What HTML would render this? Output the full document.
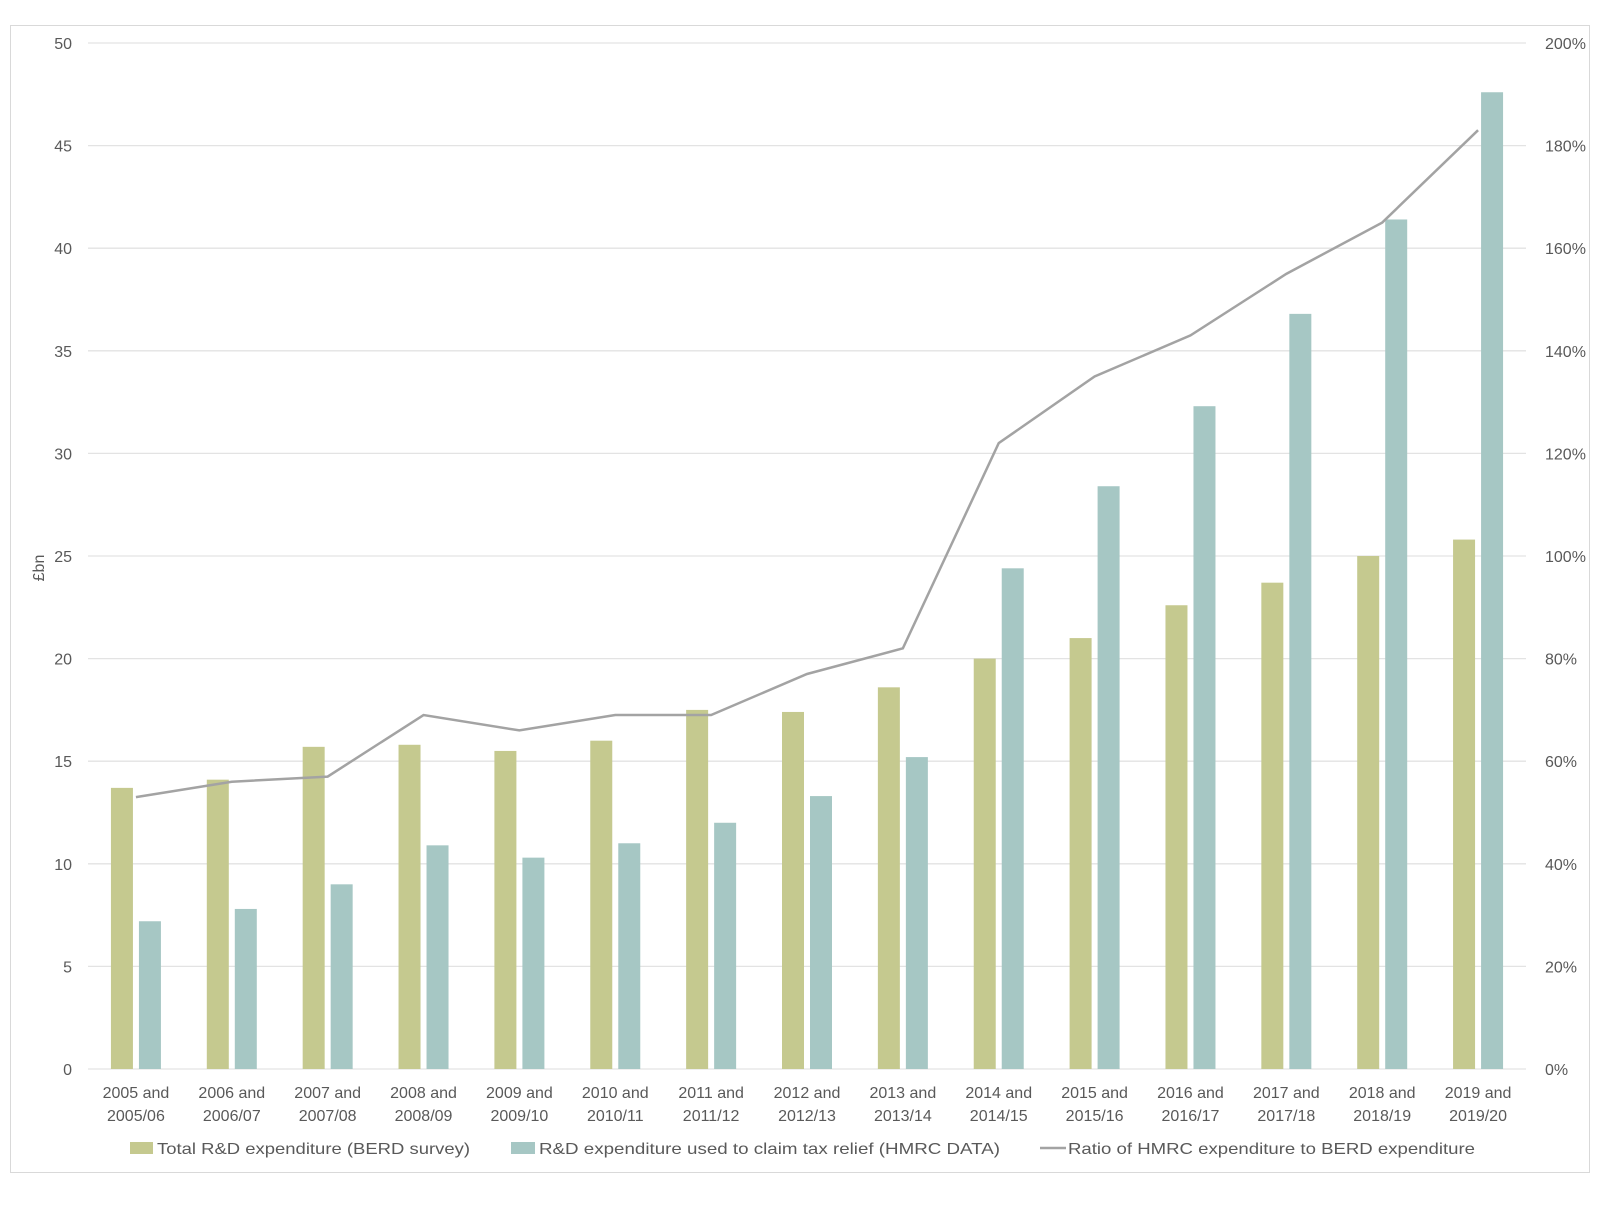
<!DOCTYPE html>
<html><head><meta charset="utf-8"><style>
body{margin:0;background:#fff}
svg text{font-family:"Liberation Sans",sans-serif;fill:#595959;font-size:16px}
</style></head><body>
<svg width="1600" height="1200" xmlns="http://www.w3.org/2000/svg">
<rect x="10.5" y="25.5" width="1579" height="1147" fill="#fff" stroke="#d9d9d9"/>
<g id="g"></g>
</svg>
<script>
const svg=document.querySelector('svg');const NS='http://www.w3.org/2000/svg';
function el(t,a,txt){const e=document.createElementNS(NS,t);for(const k in a)e.setAttribute(k,a[k]);if(txt!==undefined)e.textContent=txt;svg.appendChild(e);return e;}
const L=88,R=1526,T=43,B=1069,u=(B-T)/50;
for(let v=0;v<=50;v+=5){const y=B-v*u;el('line',{x1:L,x2:R,y1:y,y2:y,stroke:'#e3e3e3','stroke-width':1.3});
el('text',{x:72,y:y+6,'text-anchor':'end'},v);el('text',{x:1545,y:y+6},(v*4)+'%');}
el('text',{x:0,y:0,transform:'translate(44,568) rotate(-90)','text-anchor':'middle'},'£bn');
const g=[13.7,14.1,15.7,15.8,15.5,16.0,17.5,17.4,18.6,20.0,21.0,22.6,23.7,25.0,25.8];
const b=[7.2,7.8,9.0,10.9,10.3,11.0,12.0,13.3,15.2,24.4,28.4,32.3,36.8,41.4,47.6];
const r=[53,56,57,69,66,69,69,77,82,122,135,143,155,165,183];
const w=(R-L)/15;let pts=[];
for(let i=0;i<15;i++){const c=L+w/2+i*w;
el('rect',{x:c-25,y:B-g[i]*u,width:22,height:g[i]*u,fill:'#c5c98f'});
el('rect',{x:c+3,y:B-b[i]*u,width:22,height:b[i]*u,fill:'#a6c7c4'});
pts.push(c+','+(B-r[i]/4*u));
const yr=2005+i;el('text',{x:c,y:1098,'text-anchor':'middle'},yr+' and');
el('text',{x:c,y:1121,'text-anchor':'middle'},yr+'/'+String((yr+1)%100).padStart(2,'0'));}
el('polyline',{points:pts.join(' '),fill:'none',stroke:'#a3a3a3','stroke-width':2.5});
el('rect',{x:130,y:1142,width:23,height:12,fill:'#c5c98f'});
el('text',{x:157,y:1154,textLength:313,lengthAdjust:'spacingAndGlyphs'},'Total R&D expenditure (BERD survey)');
el('rect',{x:511,y:1142,width:24,height:12,fill:'#a6c7c4'});
el('text',{x:539,y:1154,textLength:461,lengthAdjust:'spacingAndGlyphs'},'R&D expenditure used to claim tax relief (HMRC DATA)');
el('line',{x1:1040,x2:1066,y1:1148,y2:1148,stroke:'#a3a3a3','stroke-width':2.5});
el('text',{x:1068,y:1154,textLength:407,lengthAdjust:'spacingAndGlyphs'},'Ratio of HMRC expenditure to BERD expenditure');
</script>
</body></html>
